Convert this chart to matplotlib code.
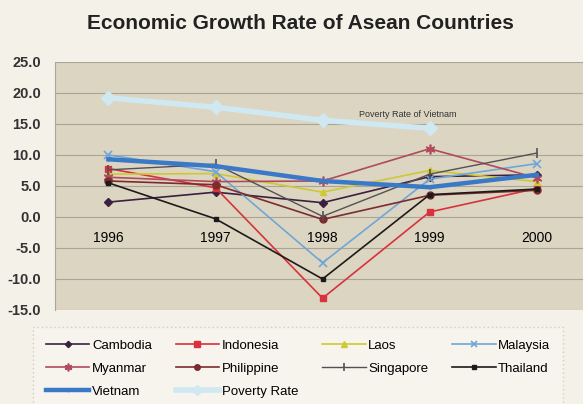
import matplotlib.pyplot as plt

years = ["1996", "1997", "1998", "1999", "2000"]

cambodia = [2.4, 4.0, 2.3, 6.5, 6.8]
indonesia = [7.8, 4.7, -13.1, 0.8, 4.6]
laos = [6.9, 7.0, 4.0, 7.5, 5.7]
malaysia = [10.0, 7.3, -7.4, 6.1, 8.6]
myanmar = [6.4, 5.7, 5.8, 11.0, 6.3]
philippine = [5.8, 5.2, -0.4, 3.5, 4.3]
singapore = [7.6, 8.5, 0.1, 6.9, 10.3]
thailand = [5.5, -0.3, -10.0, 3.6, 4.5]
vietnam = [9.3, 8.2, 5.8, 4.8, 6.8]
poverty = [19.2, 17.7, 15.6, 14.3]

plt.rcParams['font.family'] = ['Liberation Sans', 'DejaVu Sans']

fig = plt.figure(figsize=(5.83, 4.04), dpi=100)
fig.patch.set_facecolor("#f4f1e8")
ax = fig.add_axes([0.0943, 0.2327, 0.918, 0.614])
ax.set_facecolor("#dcd5c2")

x = list(range(len(years)))

h = {}
h["Cambodia"], = ax.plot(x, cambodia, color="#3b2040", marker="D", ms=4, lw=1.2, label="Cambodia")
h["Indonesia"], = ax.plot(x, indonesia, color="#d8323c", marker="s", ms=5, lw=1.2, label="Indonesia")
h["Laos"], = ax.plot(x, laos, color="#cfc834", marker="^", ms=5, lw=1.2, label="Laos")
h["Malaysia"], = ax.plot(x, malaysia, color="#6fa6d8", marker="x", ms=6, mew=1.2, lw=1.2, label="Malaysia")
h["Myanmar"], = ax.plot(x, myanmar, color="#b04a5c", marker=(6, 2, 0), ms=7, mew=1.2, lw=1.2, label="Myanmar")
h["Philippine"], = ax.plot(x, philippine, color="#7b2c2c", marker="o", ms=5, lw=1.2, label="Philippine")
h["Singapore"], = ax.plot(x, singapore, color="#555055", marker="|", ms=7, mew=1.2, lw=1.0, label="Singapore")
h["Thailand"], = ax.plot(x, thailand, color="#1e1a1a", marker="s", ms=3, lw=1.2, label="Thailand")
h["Vietnam"], = ax.plot(x, vietnam, color="#3a78c8", marker="o", ms=2, lw=3.2, label="Vietnam")
h["Poverty Rate"], = ax.plot(x[:len(poverty)], poverty, color="#cfe8f2", marker="D", ms=7, lw=4,
                             label="Poverty Rate")

ax.text(2.8, 16.6, "Poverty Rate of Vietnam", fontsize=6.5, color="#333333",
        ha="center", va="center")

ax.set_xlim(-0.5, 4.5)
ax.set_ylim(-15, 25)
ax.set_yticks(range(-15, 30, 5))
ax.set_yticklabels([f"{v:.1f}" for v in range(-15, 30, 5)], fontsize=10.5,
                   fontweight="bold", color="#333333")
ax.set_xticks(x)
ax.set_xticklabels(years, fontsize=8.5, color="#333333")
ax.spines['bottom'].set_position(('data', 0))
ax.spines['bottom'].set_visible(False)
ax.spines['top'].set_visible(False)
ax.spines['right'].set_visible(False)
ax.spines['left'].set_color("#a8a8a0")
ax.tick_params(axis='x', length=0, pad=10)
ax.tick_params(axis='y', length=0, pad=10)
ax.yaxis.grid(True, color="#a9a496", lw=0.8)
ax.set_axisbelow(True)

fig.suptitle("Economic Growth Rate of Asean Countries", x=0.515, y=0.965,
             fontsize=15, fontweight="bold", color="#222222")

# column-major order so the legend reads row by row
order = ["Cambodia", "Myanmar", "Vietnam", "Indonesia", "Philippine", "Poverty Rate",
         "Laos", "Singapore", "Malaysia", "Thailand"]
leg = fig.legend([h[k] for k in order], order, loc="upper left",
                 bbox_to_anchor=(0.057, 0.19), ncol=4,
                 frameon=True, fontsize=9.5, handlelength=3.3, columnspacing=1.8,
                 handletextpad=0.2, borderaxespad=0, labelspacing=0.8,
                 borderpad=0.95, markerscale=0.8)
leg.get_frame().set_facecolor("#f7f5ee")
leg.get_frame().set_edgecolor("#c8c4b8")
leg.get_frame().set_linestyle((0, (1, 2)))
leg.get_frame().set_boxstyle("square", pad=0)

fig.savefig("out.png", dpi=100, facecolor=fig.get_facecolor())
